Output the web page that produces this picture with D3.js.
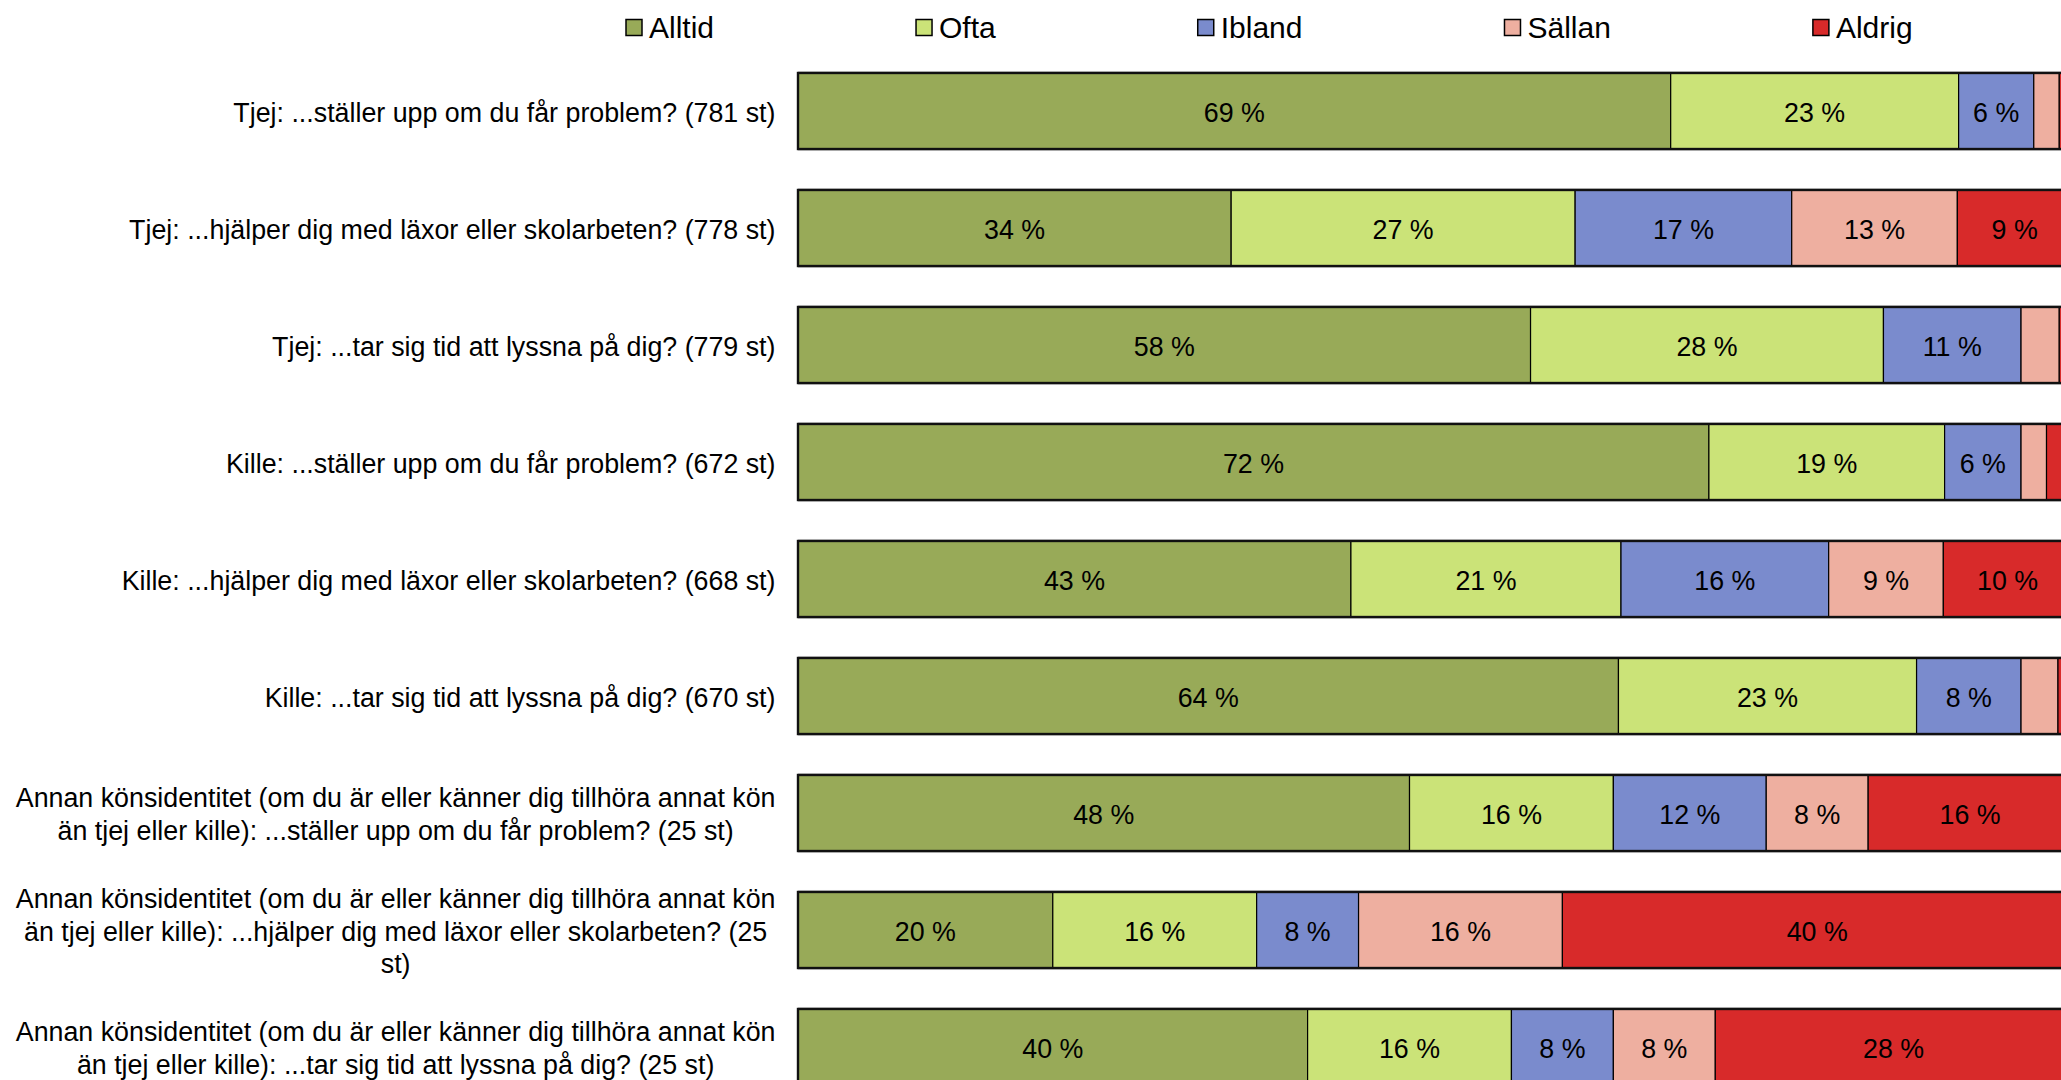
<!DOCTYPE html>
<html>
<head>
<meta charset="utf-8">
<script src="https://cdn.jsdelivr.net/npm/d3@7"></script>
<style>
  html, body { margin: 0; padding: 0; background: #fff; overflow: hidden; }
  svg { display: block; font-family: "Liberation Sans", Arial, sans-serif; }
</style>
</head>
<body>
<svg id="chart" width="2061" height="1080"></svg>
<script>
// ---- data ----
const categories = [
  "Tjej: ...ställer upp om du får problem? (781 st)",
  "Tjej: ...hjälper dig med läxor eller skolarbeten? (778 st)",
  "Tjej: ...tar sig tid att lyssna på dig? (779 st)",
  "Kille: ...ställer upp om du får problem? (672 st)",
  "Kille: ...hjälper dig med läxor eller skolarbeten? (668 st)",
  "Kille: ...tar sig tid att lyssna på dig? (670 st)",
  "Annan könsidentitet (om du är eller känner dig tillhöra annat kön\nän tjej eller kille): ...ställer upp om du får problem? (25 st)",
  "Annan könsidentitet (om du är eller känner dig tillhöra annat kön\nän tjej eller kille): ...hjälper dig med läxor eller skolarbeten? (25\nst)",
  "Annan könsidentitet (om du är eller känner dig tillhöra annat kön\nän tjej eller kille): ...tar sig tid att lyssna på dig? (25 st)"
];
const seriesNames = ["Alltid", "Ofta", "Ibland", "Sällan", "Aldrig"];
const seriesColors = ["#98aa58", "#cbe378", "#7a8bcd", "#eeafa0", "#d82a2a"];
const alltid = [68.5, 34, 57.5, 71.5, 43.4, 64.4, 48, 20, 40];
const ofta   = [22.6, 27, 27.7, 18.5, 21.2, 23.4, 16, 16, 16];
const ibland = [5.9, 17, 10.8, 6.0, 16.3, 8.2, 12, 8, 8];
const sallan = [2.0, 13, 3.0, 2.0, 9.0, 2.9, 8, 16, 8];
const aldrig = [1.0, 9, 1.0, 2.0, 10.1, 1.1, 16, 40, 28];
const xTicks = [0, 100];

// ---- layout ----
const svg = d3.select("#chart");
const fontCat = 26.8, fontLegend = 30, lineH = 32.5;

const x = d3.scaleLinear().domain([0, 100]).range([798, 2072]);
const y = d3.scaleBand().domain(categories.map((c, i) => i))
  .range([52.5, 1105.5]).paddingInner(0.35).paddingOuter(0.175);

const series = [alltid, ofta, ibland, sallan, aldrig];
const rows = categories.map((c, i) => {
  let acc = 0;
  return series.map((s, k) => {
    const seg = { row: i, k, v: s[i], x0: acc, x1: acc + s[i] };
    acc += s[i];
    return seg;
  });
});

const plot = svg.append("g");

rows.forEach((segs, i) => {
  const g = plot.append("g");
  const y0 = y(i), bh = y.bandwidth();
  g.append("rect").attr("x", x(xTicks[0])).attr("y", y0 - 2)
    .attr("width", x(xTicks[1]) - x(xTicks[0])).attr("height", bh + 4)
    .attr("fill", "#d6d6d6");
  g.selectAll("rect.seg").data(segs).enter().append("rect")
    .attr("class", "seg")
    .attr("x", d => x(d.x0)).attr("y", y0)
    .attr("width", d => x(d.x1) - x(d.x0)).attr("height", bh)
    .attr("fill", d => seriesColors[d.k])
    .attr("stroke", "#000").attr("stroke-width", 1.2);
  g.append("rect").attr("x", x(xTicks[0])).attr("y", y0)
    .attr("width", x(xTicks[1]) - x(xTicks[0])).attr("height", bh)
    .attr("fill", "none").attr("stroke", "#111").attr("stroke-width", 2.4);
  g.selectAll("text.val").data(segs.filter(d => d.v >= 5)).enter().append("text")
    .attr("class", "val")
    .attr("x", d => (x(d.x0) + x(d.x1)) / 2)
    .attr("y", y0 + bh / 2 + 1)
    .attr("dy", "0.36em")
    .attr("text-anchor", "middle")
    .attr("font-size", fontCat)
    .attr("fill", "#000")
    .text(d => Math.round(d.v) + " %");
});

// category labels
const labelRight = 775.5;
categories.forEach((c, i) => {
  const lines = c.split("\n");
  const cy = y(i) + y.bandwidth() / 2 + 1;
  const t = svg.append("text").attr("font-size", fontCat).attr("fill", "#000");
  if (lines.length === 1) {
    t.attr("x", labelRight).attr("y", cy).attr("dy", "0.36em")
      .attr("text-anchor", "end").text(c);
  } else {
    const tmp = svg.append("text").attr("font-size", fontCat);
    let maxW = 0;
    lines.forEach(l => { tmp.text(l); maxW = Math.max(maxW, tmp.node().getComputedTextLength()); });
    tmp.remove();
    const cx = labelRight - maxW / 2;
    t.attr("text-anchor", "middle");
    lines.forEach((l, j) => {
      t.append("tspan").attr("x", cx)
        .attr("y", cy + (j - (lines.length - 1) / 2) * lineH)
        .attr("dy", "0.36em").text(l);
    });
  }
});

// legend
const legend = svg.append("g");
let lx = 626;
const sq = 16, gap = 7, itemGap = 202, ly = 27.5;
seriesNames.forEach((n, k) => {
  legend.append("rect").attr("x", lx).attr("y", ly - sq / 2)
    .attr("width", sq).attr("height", sq)
    .attr("fill", seriesColors[k]).attr("stroke", "#000").attr("stroke-width", 1.5);
  const t = legend.append("text").attr("x", lx + sq + gap).attr("y", ly)
    .attr("dy", "0.35em").attr("font-size", fontLegend).attr("fill", "#000").text(n);
  lx += sq + gap + t.node().getComputedTextLength() + itemGap;
});
</script>
</body>
</html>
